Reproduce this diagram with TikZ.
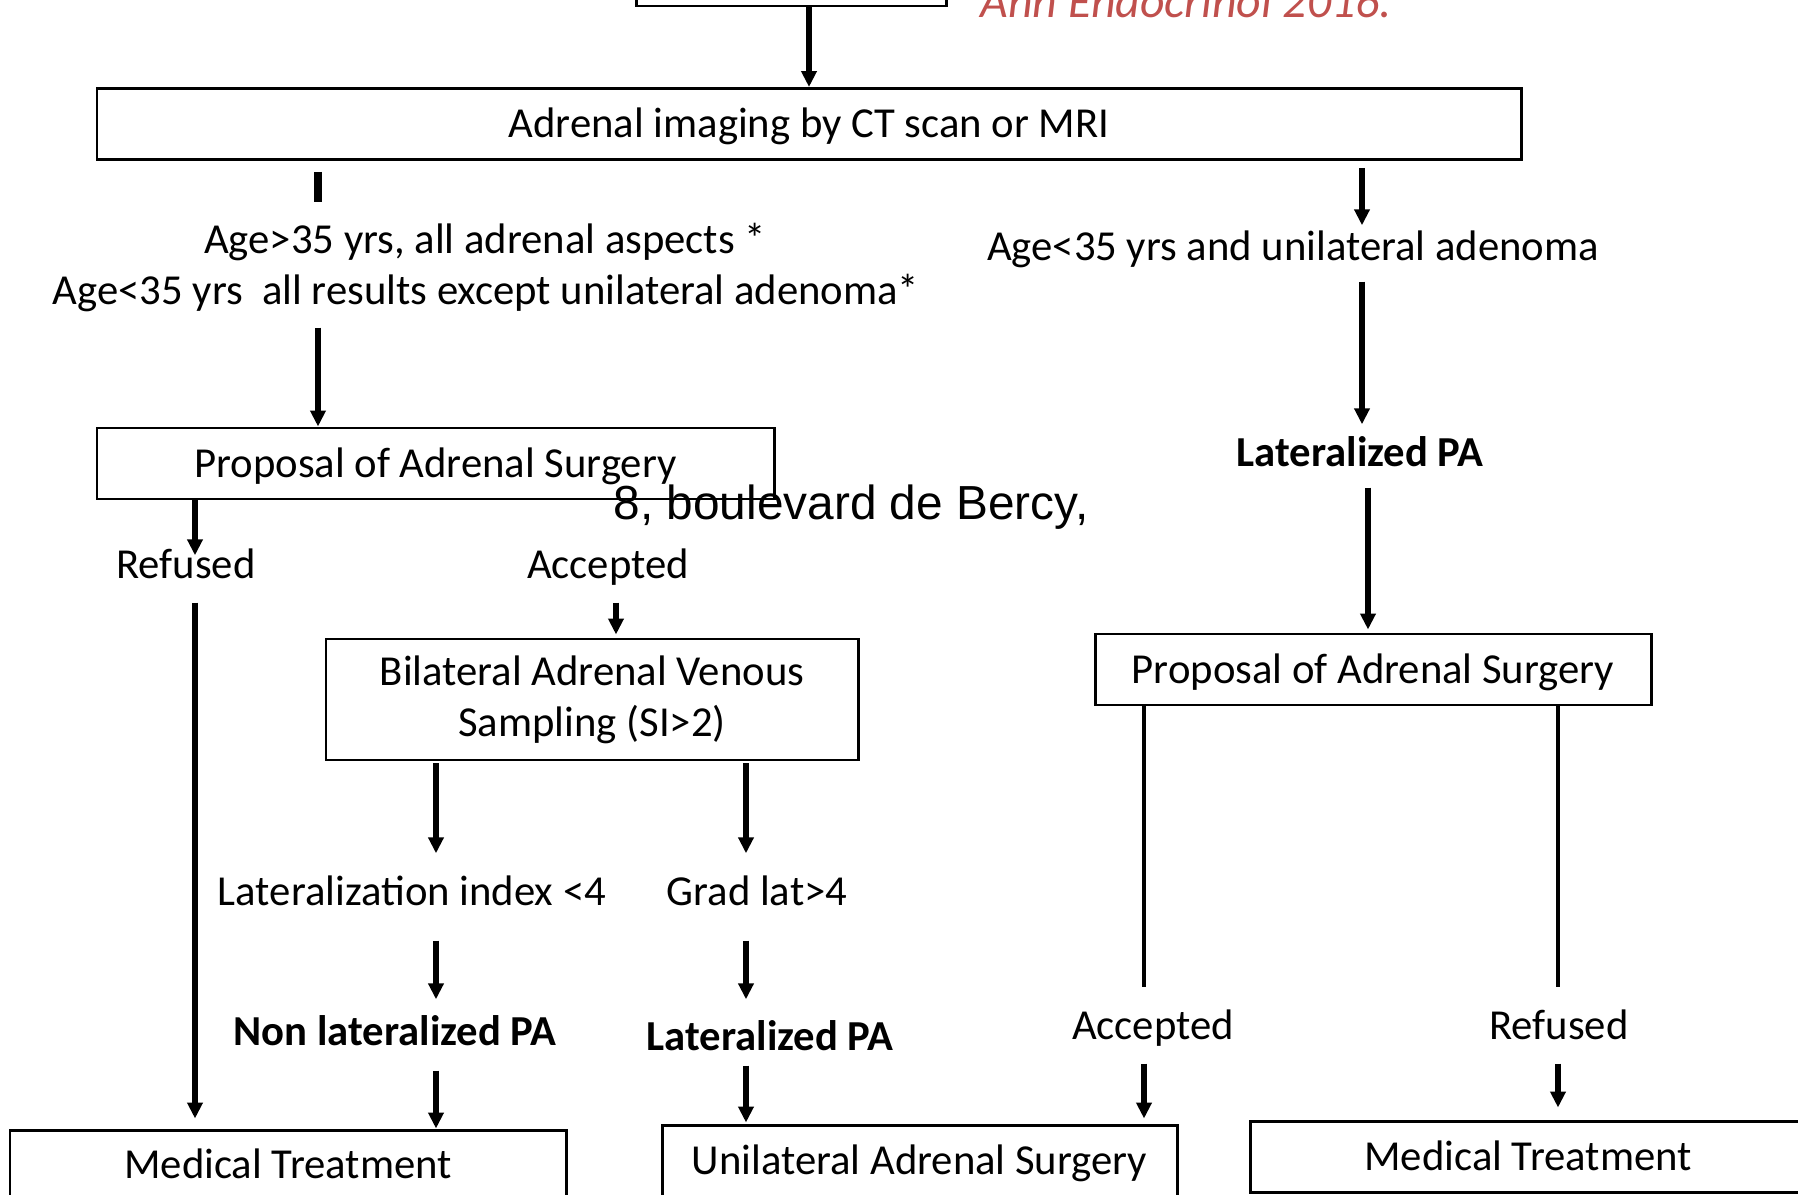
\documentclass[tikz,border=0pt]{standalone}
\usepackage{fontspec}
\setmainfont{Carlito}
\newfontfamily\arialfont{Liberation Sans}
\usetikzlibrary{arrows.meta}
\definecolor{Cref}{RGB}{192,80,77}
\newcommand{\fsz}{\fontsize{12.15pt}{14.5pt}\selectfont}

\begin{document}
\begin{tikzpicture}[
      boxnode/.style={draw, line width=0.85pt, inner sep=0pt,
                      align=center, font=\fsz},
      onel/.style={text height=0.33cm, text depth=0.06cm},
      txt/.style={anchor=base, inner sep=0pt, font=\fsz,
                  text height=0.30cm, text depth=0.09cm},
      txtb/.style={txt, font=\fsz\bfseries},
      arr/.style={line width=1.5pt, -{Triangle[length=0.16cm,width=0.15cm]}},
      seg/.style={line width=1.4pt}]
    \useasboundingbox (0,0) rectangle (17.98,11.94);
    % Caixas
    \node[boxnode, minimum width=3.10cm, minimum height=0.60cm] (prev) at (7.91,12.18) {};
    \node[boxnode, onel, minimum width=14.24cm, minimum height=0.71cm] (imaging) at (8.09,10.70)
      {Adrenal imaging by CT scan or MRI};
    \node[boxnode, onel, minimum width=6.77cm, minimum height=0.71cm] (propL) at (4.355,7.305)
      {Proposal of Adrenal Surgery};
    \node[boxnode, minimum width=5.32cm, minimum height=1.21cm] (bavs) at (5.92,4.945)
      {Bilateral Adrenal Venous\\Sampling (SI>2)};
    \node[boxnode, onel, minimum width=5.56cm, minimum height=0.71cm] (propR) at (13.73,5.245)
      {Proposal of Adrenal Surgery};
    \node[boxnode, onel, minimum width=5.56cm, minimum height=0.70cm] (medL) at (2.88,0.29)
      {Medical Treatment};
    \node[boxnode, onel, minimum width=5.15cm, minimum height=0.72cm] (uni) at (9.195,0.33)
      {Unilateral Adrenal Surgery};
    \node[boxnode, onel, minimum width=5.56cm, minimum height=0.71cm] (medR) at (15.28,0.375)
      {Medical Treatment};
    % Rotulos
    \node[txt] (ageA) at (4.85,9.40) {Age>35 yrs, all adrenal aspects *};
    \node[txt] (ageB) at (4.86,8.90) {Age<35 yrs\ \ all results except unilateral adenoma*};
    \node[txt] (ageR) at (12.93,9.33) {Age<35 yrs and unilateral adenoma};
    \node[txtb] (latR) at (13.60,7.28) {Lateralized PA};
    \node[txt] (refL) at (1.86,6.16) {Refused};
    \node[txt] (accL) at (6.08,6.16) {Accepted};
    \node[txt] (lix) at (4.12,2.89) {Lateralization index <4};
    \node[txt] (grad) at (7.57,2.89) {Grad lat>4};
    \node[txtb] (nonlat) at (3.95,1.49) {Non lateralized PA};
    \node[txtb] (latM) at (7.70,1.44) {Lateralized PA};
    \node[txt] (accR) at (11.53,1.55) {Accepted};
    \node[txt] (refR) at (15.59,1.55) {Refused};
    \node[anchor=base west, inner sep=0pt, font=\arialfont\fontsize{13.6pt}{16pt}\selectfont]
      (bercy) at (6.13,6.75) {8, boulevard de Bercy,};
    \node[anchor=base west, inner sep=0pt, text=Cref,
          font=\itshape\fontsize{13.6pt}{16pt}\selectfont]
      (cite) at (9.80,11.76) {Ann Endocrinol 2016.};
    % Colunas das setas
    \coordinate (cL) at (3.18,0);
    \coordinate (cR) at (13.62,0);
    \coordinate (cR2) at (13.68,0);
    \coordinate (cRf) at (1.95,0);
    \coordinate (cAc) at (6.16,0);
    \coordinate (cLi) at (4.36,0);
    \coordinate (cGr) at (7.46,0);
    \coordinate (cAR) at (11.44,0);
    \coordinate (cRR) at (15.58,0);
    % Setas
    \draw[arr] (prev.south -| imaging.north) -- (imaging.north);
    \draw[seg, line width=2pt, shorten <=0.11cm, shorten >=0.21cm] (imaging.south -| cL) -- (ageA.north -| cL);
    \draw[arr, shorten <=0.14cm] (ageB.south -| cL) -- (propL.north -| cL);
    \draw[arr, shorten <=0.07cm, shorten >=0.05cm] (imaging.south -| cR) -- (ageR.north -| cR);
    \draw[arr, shorten <=0.11cm, shorten >=0.11cm] (ageR.south -| cR) -- (latR.north -| cR);
    \draw[arr, shorten <=0.12cm, shorten >=0.03cm] (latR.south -| cR2) -- (propR.north -| cR2);
    \draw[arr, shorten >=-0.08cm] (propL.south -| cRf) -- (refL.north -| cRf);
    \draw[arr, shorten <=0.15cm, shorten >=0.10cm] (refL.south -| cRf) -- (medL.north -| cRf);
    \draw[arr, shorten <=0.15cm, shorten >=0.03cm] (accL.south -| cAc) -- (bavs.north -| cAc);
    \draw[arr, shorten <=0.02cm, shorten >=0.21cm] (bavs.south -| cLi) -- (lix.north -| cLi);
    \draw[arr, shorten <=0.02cm, shorten >=0.21cm] (bavs.south -| cGr) -- (grad.north -| cGr);
    \draw[arr, shorten <=0.26cm, shorten >=0.15cm] (lix.south -| cLi) -- (nonlat.north -| cLi);
    \draw[arr, shorten <=0.26cm, shorten >=0.20cm] (grad.south -| cGr) -- (latM.north -| cGr);
    \draw[arr, shorten <=0.16cm] (nonlat.south -| cLi) -- (medL.north -| cLi);
    \draw[arr, shorten <=0.06cm, shorten >=0.01cm] (latM.south -| cGr) -- (uni.north -| cGr);
    \draw[seg, shorten >=0.21cm] (propR.south -| cAR) -- (accR.north -| cAR);
    \draw[arr, shorten <=0.15cm, shorten >=0.05cm] (accR.south -| cAR) -- (uni.north -| cAR);
    \draw[seg, shorten >=0.21cm] (propR.south -| cRR) -- (refR.north -| cRR);
    \draw[arr, shorten <=0.15cm, shorten >=0.12cm] (refR.south -| cRR) -- (medR.north -| cRR);
  \end{tikzpicture}
\end{document}
